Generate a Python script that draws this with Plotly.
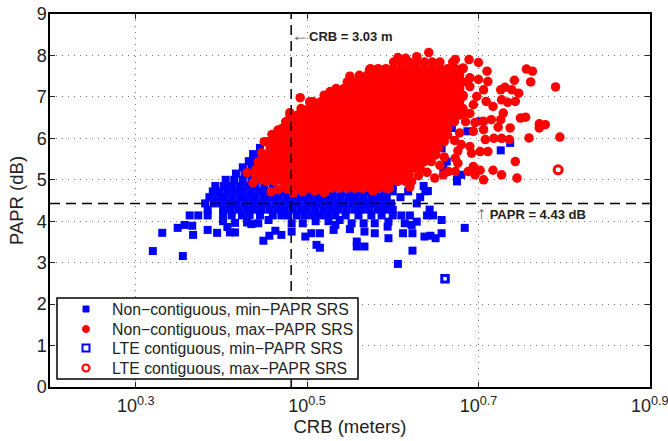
import numpy as np
import plotly.graph_objects as go

# All CRB values are log10(metres); PAPR in dB.
CRB_BOUND = 3.03
PAPR_BOUND = 4.43
LTE_MIN = (0.661, 2.61)
LTE_MAX = (0.793, 5.24)

blue_rows = [
 (5.77,[.445]),
 (5.62,[.437,.445]),
 (5.45,[.432,.44]),
 (5.30,[.425,.435,.443]),
 (5.15,[.417,.427,.437]),
 (5.00,[.405,.415,.425,.435,.445]),
 (4.85,[.393,.403,.412,.421,.43,.44,.45,.46,.48,.53,.55,.6,.636]),
 (4.72,[.39,.398,.407,.416,.425,.434,.443,.452,.461,.47,.48,.49,.5,.51,.52,.53,.54,.55,.56,.57,.58,.59,.6,.618,.638]),
 (4.58,[.386,.395,.404,.413,.422,.431,.44,.449,.458,.467,.476,.485,.494,.503,.512,.521,.53,.539,.548,.557,.566,.575,.584,.593,.609,.632]),
 (4.43,[.381,.391,.4,.409,.418,.427,.436,.445,.454,.463,.472,.481,.49,.499,.508,.517,.526,.535,.544,.553,.562,.571,.58,.589,.598,.628]),
 (4.28,[.384,.402,.411,.42,.429,.438,.447,.456,.465,.474,.483,.492,.501,.51,.519,.528,.537,.546,.555,.564,.573,.582,.591,.6,.643]),
 (4.14,[.363,.373,.384,.402,.412,.424,.433,.445,.46,.47,.478,.488,.497,.506,.515,.524,.533,.545,.56,.575,.587,.6,.61,.62,.64,.647]),
]
blue_scatter = [
 (.331,3.72),(.32,3.28),(.355,3.16),(.367,3.67),(.349,3.84),(.357,3.91),(.366,3.89),(.384,3.79),(.395,3.72),(.407,3.86),
 (.402,4.0),(.416,3.96),(.41,3.73),(.416,3.73),(.43,3.97),(.435,3.93),(.443,3.95),(.455,4.03),(.449,3.53),(.456,3.65),
 (.463,3.77),(.47,3.67),(.482,3.75),(.498,3.63),(.505,3.71),(.515,3.71),(.511,3.43),(.515,3.36),(.531,3.79),(.533,3.91),
 (.55,3.81),(.558,3.51),(.558,3.39),(.567,3.39),(.567,3.75),(.579,3.71),(.595,3.59),(.594,3.87),(.612,3.71),(.623,3.71),
 (.623,3.29),(.606,2.97),(.637,3.63),(.644,3.65),(.65,3.59),(.657,3.71),(.657,4.03),(.628,3.99),(.622,3.91),(.614,3.95),
 (.595,3.99),(.579,3.95),(.566,3.95),(.552,3.95),(.538,4.03),(.525,4.0),(.51,4.0),(.495,3.95),(.482,3.95),(.684,3.84),
 (.641,4.73),(.675,5.0),(.726,5.71),(.737,5.89),(.702,6.41),(.687,6.17),(.669,6.25),(.675,4.96),(.68,5.12),(.663,5.44),
 (.657,5.76),(.659,5.28),(.674,7.21),(.659,6.93),
]

red_rows = [
 (4.80,[.475,.484,.493,.502,.511,.52,.529,.538,.547,.556,.565,.574,.583,.592]),
 (4.96,[.453,.462,.471,.48,.489,.498,.507,.516,.525,.534,.543,.552,.561,.57,.579,.588,.597,.606,.615,.622]),
 (5.12,[.44,.448,.457,.466,.475,.484,.493,.502,.511,.52,.529,.538,.547,.556,.565,.574,.583,.592,.601,.61,.619]),
 (5.28,[.444,.453,.462,.471,.48,.489,.498,.507,.516,.525,.534,.543,.552,.561,.57,.579,.588,.597,.606,.615,.624,.632]),
 (5.44,[.448,.457,.466,.475,.484,.493,.502,.511,.52,.529,.538,.547,.556,.565,.574,.583,.592,.601,.61,.619,.628,.637,.645]),
 (5.60,[.453,.462,.471,.48,.489,.498,.507,.516,.525,.534,.543,.552,.561,.57,.579,.588,.597,.606,.615,.624,.633,.642,.65]),
 (5.76,[.457,.466,.475,.484,.493,.502,.511,.52,.529,.538,.547,.556,.565,.574,.583,.592,.601,.61,.619,.628,.637,.646,.653]),
 (5.92,[.453,.462,.471,.48,.489,.498,.507,.516,.525,.534,.543,.552,.561,.57,.579,.588,.597,.606,.615,.624,.633,.642,.651,.66]),
 (6.08,[.466,.475,.484,.493,.502,.511,.52,.529,.538,.547,.556,.565,.574,.583,.592,.601,.61,.619,.628,.637,.646,.655,.664]),
 (6.24,[.471,.48,.489,.498,.507,.516,.525,.534,.543,.552,.561,.57,.579,.588,.597,.606,.615,.624,.633,.642,.651,.66,.664]),
 (6.40,[.475,.484,.493,.502,.511,.52,.529,.538,.547,.556,.565,.574,.583,.592,.601,.61,.619,.628,.637,.646,.655,.664,.672]),
 (6.56,[.48,.489,.498,.507,.516,.525,.534,.543,.552,.561,.57,.579,.588,.597,.606,.615,.624,.633,.642,.651,.66,.669,.678]),
 (6.72,[.493,.502,.511,.52,.529,.538,.547,.556,.565,.574,.583,.592,.601,.61,.619,.628,.637,.646,.655,.664,.673,.682]),
 (6.88,[.507,.516,.525,.534,.543,.552,.561,.57,.579,.588,.597,.606,.615,.624,.633,.642,.651,.66,.669,.678]),
 (7.04,[.52,.529,.538,.547,.556,.565,.574,.583,.592,.601,.61,.619,.628,.637,.646,.655,.664,.673,.682]),
 (7.20,[.534,.543,.552,.561,.57,.579,.588,.597,.606,.615,.624,.633,.642,.651,.66,.668,.678]),
 (7.36,[.547,.556,.565,.574,.583,.592,.601,.61,.619,.628,.637,.646,.655,.664,.673,.682]),
 (7.52,[.561,.57,.579,.588,.597,.606,.615,.624,.633,.642,.651,.66,.669,.678]),
 (7.68,[.574,.583,.592,.601,.61,.619,.628,.637,.646,.655,.664,.673,.682]),
 (7.84,[.601,.61,.619,.628,.637,.646,.655,.67]),
]
red_scatter = [
 (.642,8.07),(.628,7.97),(.606,7.95),(.615,7.93),(.573,7.66),(.55,7.5),(.527,7.13),(.492,6.98),(.503,6.88),(.48,6.62),(.466,6.2),
 (.689,7.9),(.70,7.83),(.71,7.62),(.711,7.37),(.706,7.17),(.69,7.46),(.682,7.7),(.673,7.9),(.756,7.67),(.763,7.62),
 (.742,7.4),(.761,7.36),(.79,7.24),(.726,7.17),(.731,7.23),(.739,7.17),(.747,7.09),(.743,6.89),(.734,6.87),(.727,6.93),
 (.717,6.77),(.709,6.89),(.729,6.61),(.726,6.45),(.723,6.27),(.737,6.25),(.749,6.49),(.755,6.51),(.715,6.45),(.706,6.41),
 (.696,6.38),(.706,6.21),(.694,6.17),(.771,6.35),(.771,6.25),(.778,6.33),(.759,6.01),(.795,6.03),(.718,6.0),(.727,6.0),
 (.736,5.97),(.708,5.97),(.702,5.68),(.711,5.68),(.692,5.64),(.69,5.8),(.743,5.44),(.694,5.32),(.702,5.23),(.688,5.2),
 (.696,5.12),(.717,5.23),(.727,5.12),(.745,5.04),(.706,5.0),(.676,5.4),(.673,5.52),(.68,5.85),(.678,6.13),(.665,5.2),
 (.659,5.12),(.649,5.04),(.673,5.2),(.682,6.61),(.694,6.81),(.698,7.01),(.682,7.01),(.69,7.25),(.70,7.42),(.676,5.7),
 (.672,5.95),(.685,6.4),(.69,6.6),(.66,5.55),(.655,5.35),(.64,5.18),(.63,5.1),
 (.62,4.83),(.596,4.8),(.585,4.95),(.577,4.73),(.565,4.8),(.551,4.93),(.536,4.98),(.527,4.88),
 (.52,4.69),(.509,4.73),(.495,4.71),(.484,4.68),(.478,4.78),(.466,4.76),(.458,4.71),(.437,4.93),(.447,5.0),
 (.43,5.17),(.44,5.24),(.443,5.43),(.447,5.65),(.45,5.92),(.459,6.09),
]

def unroll(rows, scatter):
    xs, ys = [], []
    for y, row in rows:
        xs += list(row)
        ys += [y] * len(row)
    for x, y in scatter:
        xs.append(x)
        ys.append(y)
    return 10 ** np.array(xs), np.array(ys)

bx, by = unroll(blue_rows, blue_scatter)
rx, ry = unroll(red_rows, red_scatter)

MINUS = "\u2212"
names = [f"Non{MINUS}contiguous, min{MINUS}PAPR SRS", f"Non{MINUS}contiguous, max{MINUS}PAPR SRS",
         f"LTE contiguous, min{MINUS}PAPR SRS", f"LTE contiguous, max{MINUS}PAPR SRS"]
W, H, ML, MR, MT, MB = 668, 441, 50, 18, 14, 54
PW, PH = W - ML - MR, H - MT - MB
def px(v): return (v - ML) / PW
def py(v): return (H - MB - v) / PH

fig = go.Figure()
fig.add_trace(go.Scatter(x=bx, y=by, mode="markers", name=names[0], marker=dict(symbol="square", size=8, color="#0000ff")))
fig.add_trace(go.Scatter(x=rx, y=ry, mode="markers", name=names[1], marker=dict(symbol="circle", size=9.5, color="#ff0000")))
fig.add_trace(go.Scatter(x=[10 ** LTE_MIN[0]], y=[LTE_MIN[1]], mode="markers", name=names[2],
                         marker=dict(symbol="square-open", size=6.5, color="#0000ff", line=dict(width=3, color="#0000ff"))))
fig.add_trace(go.Scatter(x=[10 ** LTE_MAX[0]], y=[LTE_MAX[1]], mode="markers", name=names[3],
                         marker=dict(symbol="circle-open", size=8, color="#ff0000", line=dict(width=3, color="#ff0000"))))
line = dict(color="black", width=1.5, dash="10px,6px")
fig.add_trace(go.Scatter(x=[CRB_BOUND, CRB_BOUND], y=[0, 9], mode="lines", line=line))
fig.add_trace(go.Scatter(x=[10 ** 0.2, 10 ** 0.9], y=[PAPR_BOUND, PAPR_BOUND], mode="lines", line=line))

FONT = "Liberation Sans"
INK = "#222222"
ARROW = '<span style="color:#666;font-size:18px;">{}</span>'
fig.add_annotation(x=px(289), y=8.5, xref="paper", yref="y", xanchor="left", yanchor="middle", showarrow=False,
                   text=ARROW.format("\u2190") + f'<b>CRB = {CRB_BOUND} m</b>', font=dict(family=FONT, size=13, color=INK))
fig.add_annotation(x=px(475), y=4.2, xref="paper", yref="y", xanchor="left", yanchor="middle", showarrow=False,
                   text=ARROW.format("\u2191") + f' <b>PAPR = {PAPR_BOUND} dB</b>', font=dict(family=FONT, size=13, color=INK))

# Legend drawn by hand so its rows can be as tight as the reference's.
shapes = [dict(type="rect", xref="paper", yref="paper", x0=px(57), x1=px(358), y0=py(379), y1=py(298),
               fillcolor="white", line=dict(color="black", width=1.5))]
rows_y = [309, 329, 348, 368]
def key(kind, cy, color, fill, half, lw):
    return dict(type=kind, xref="paper", yref="paper", x0=px(86 - half), x1=px(86 + half), y0=py(cy + half), y1=py(cy - half),
                fillcolor=fill, line=dict(color=color, width=lw))
shapes += [key("rect", rows_y[0], "#0000ff", "#0000ff", 3, 1),
           key("circle", rows_y[1], "#ff0000", "#ff0000", 3.5, 1),
           key("rect", rows_y[2], "#0000ff", "white", 3.5, 2),
           key("circle", rows_y[3], "#ff0000", "white", 3.5, 2.2)]
for name, cy in zip(names, rows_y):
    fig.add_annotation(x=px(110), y=py(cy), xref="paper", yref="paper", xanchor="left", yanchor="middle", showarrow=False,
                       text=name, font=dict(family=FONT, size=15.8, color=INK))

axis_common = dict(showline=True, linecolor="black", linewidth=1.5, mirror="ticks", ticks="inside", ticklen=5,
                   tickcolor=INK, tickwidth=1, showgrid=True, gridcolor="#777777", griddash="1px,5px", gridwidth=1,
                   zeroline=False, automargin=False, tickfont=dict(family=FONT, size=18, color=INK))
xtick_exp = [0.3, 0.5, 0.7, 0.9]
fig.update_xaxes(type="log", range=[0.2, 0.9002], tickmode="array", tickvals=[10 ** e for e in xtick_exp],
                 ticktext=[f"10<sup>{e}</sup>" for e in xtick_exp], ticklabeloverflow="allow", ticklabelstandoff=2,
                 title=dict(text="CRB (meters)", font=dict(family=FONT, size=18.5, color=INK), standoff=3), **axis_common)
fig.update_yaxes(range=[0, 9], tickmode="array", tickvals=list(range(10)), ticklabelstandoff=-2,
                 title=dict(text="PAPR (dB)", font=dict(family=FONT, size=18.5, color=INK), standoff=8), **axis_common)
fig.update_layout(width=W, height=H, margin=dict(l=ML, r=MR, t=MT, b=MB), paper_bgcolor="white", plot_bgcolor="white",
                  showlegend=False, shapes=shapes)
fig.write_html("out.html", config={"displayModeBar": False}, post_script="document.body.style.margin='0';")
